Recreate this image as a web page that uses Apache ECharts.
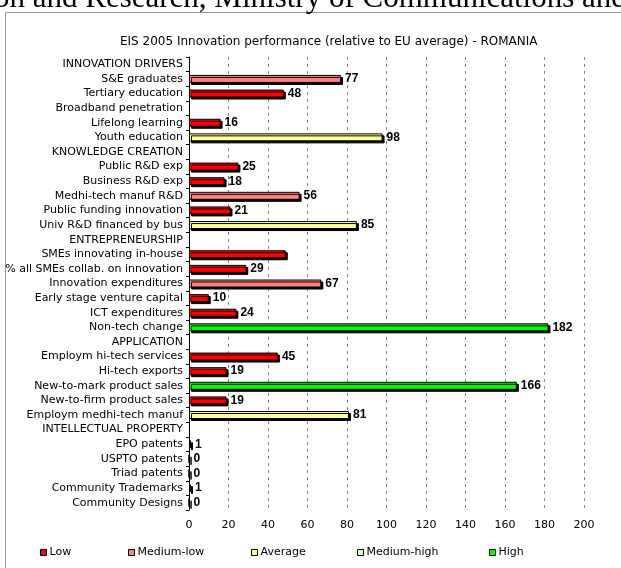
<!DOCTYPE html>
<html>
<head>
<meta charset="utf-8">
<script src="https://cdn.jsdelivr.net/npm/echarts@6/dist/echarts.min.js"></script>
<style>
  html, body { margin: 0; padding: 0; background: #fff; }
  #chart { width: 621px; height: 568px; }
</style>
</head>
<body>
<div id="chart"></div>
<script>
const categories = [
  "INNOVATION DRIVERS", "S&E graduates", "Tertiary education", "Broadband penetration",
  "Lifelong learning", "Youth education", "KNOWLEDGE CREATION", "Public R&D exp",
  "Business R&D exp", "Medhi-tech manuf R&D", "Public funding innovation",
  "Univ R&D financed by bus", "ENTREPRENEURSHIP", "SMEs innovating in-house",
  "% all SMEs collab. on innovation", "Innovation expenditures", "Early stage venture capital",
  "ICT expenditures", "Non-tech change", "APPLICATION", "Employm hi-tech services",
  "Hi-tech exports", "New-to-mark product sales", "New-to-firm product sales",
  "Employm medhi-tech manuf", "INTELLECTUAL PROPERTY", "EPO patents", "USPTO patents",
  "Triad patents", "Community Trademarks", "Community Designs"
];
const values = [
  null, 77, 48, null, 16, 98, null, 25, 18, 56, 21, 85, null, 49, 29, 67, 10, 24, 182,
  null, 45, 19, 166, 19, 81, null, 1, 0, 0, 1, 0
];
const levels = [
  null, "Medium-low", "Low", null, "Low", "Average", null, "Low", "Low", "Medium-low", "Low",
  "Average", null, "Low", "Low", "Medium-low", "Low", "Low", "High", null, "Low", "Low",
  "High", "Low", "Average", null, "Low", "Low", "Low", "Low", "Low"
];
const unlabeled = ["SMEs innovating in-house"];
const levelNames = ["Low", "Medium-low", "Average", "Medium-high", "High"];
const levelColors = ["#ff0000", "#ff8080", "#ffff99", "#ccffcc", "#00ff00"];
const xTicks = [0, 200, 20];

const font = "DejaVu Sans";
const chart = echarts.init(document.getElementById("chart"));

const series = levelNames.map((name, k) => ({
  name: name,
  type: "bar",
  stack: "all",
  barWidth: 8,
  itemStyle: {
    color: levelColors[k],
    borderColor: "#000",
    borderWidth: 1,
    shadowColor: "#000",
    shadowOffsetX: 2,
    shadowOffsetY: 2,
    shadowBlur: 0,
  },
  label: {
    show: true,
    position: "right",
    distance: 4,
    color: "#000",
    fontFamily: "Liberation Sans",
    fontSize: 12,
    fontWeight: "bold",
  },
  data: values.map((v, i) => {
    if (levels[i] !== name || v === null) return "-";
    if (unlabeled.includes(categories[i])) return { value: v, label: { show: false } };
    return v;
  }),
}));

const legendLeft = [35, 123, 246, 352, 484];
const legends = levelNames.map((name, k) => ({
  data: [name],
  left: legendLeft[k],
  top: 542,
  icon: "rect",
  itemWidth: 6,
  itemHeight: 6,
  itemGap: 0,
  selectedMode: false,
  itemStyle: {
    borderColor: "#000",
    borderWidth: 1,
    shadowColor: "transparent",
    shadowOffsetX: 0,
    shadowOffsetY: 0,
  },
  textStyle: { color: "#000", fontFamily: font, fontSize: 11, padding: [0, 0, 0, -2] },
}));

chart.setOption({
  animation: false,
  backgroundColor: "#fff",
  title: {
    text: "EIS 2005 Innovation performance (relative to EU average) - ROMANIA",
    left: 115,
    top: 31,
    textStyle: { color: "#000", fontFamily: font, fontSize: 12, fontWeight: "normal" },
  },
  graphic: [
    {
      type: "text",
      left: -6,
      top: -17,
      style: {
        text: "on and Research, Ministry of Communications and",
        font: "31px 'Liberation Serif'",
        fill: "#000",
      },
    },
    {
      type: "rect",
      shape: { x: 5.5, y: 12.5, width: 700, height: 700 },
      style: { fill: "none", stroke: "#999", lineWidth: 1 },
      z: -1,
    },
  ],
  legend: legends,
  grid: { left: 189, right: 37, top: 57, bottom: 58 },
  xAxis: {
    type: "value",
    min: xTicks[0],
    max: xTicks[1],
    interval: xTicks[2],
    axisLine: { show: false },
    axisTick: { show: false },
    axisLabel: { color: "#000", fontFamily: font, fontSize: 11, margin: 10 },
    splitLine: { lineStyle: { color: "#888", type: [3, 4], width: 1 } },
  },
  yAxis: {
    type: "category",
    inverse: true,
    data: categories,
    axisLine: { lineStyle: { color: "#000", width: 1 } },
    axisTick: { show: true, length: 3, lineStyle: { color: "#000" } },
    axisLabel: { color: "#000", fontFamily: font, fontSize: 11, margin: 6 },
  },
  series: series,
});
</script>
</body>
</html>
